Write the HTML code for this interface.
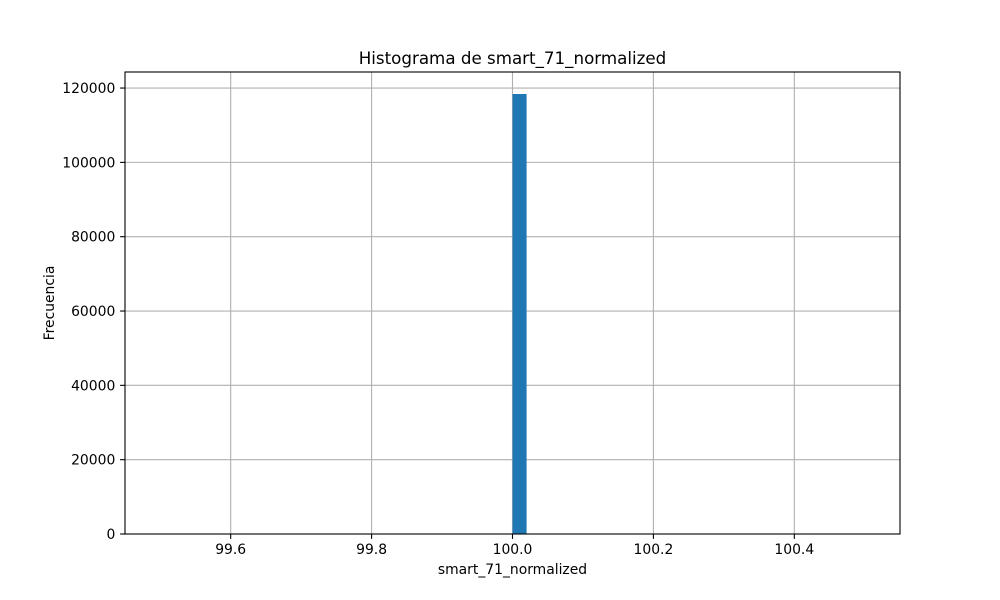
<!DOCTYPE html>
<html><head><meta charset="utf-8"><style>body{margin:0;background:#fff}svg{display:block;font-family:"DejaVu Sans","Liberation Sans",sans-serif}</style></head>
<body>
<svg id="chart" width="1000" height="600" viewBox="0 0 1000 600" xmlns="http://www.w3.org/2000/svg">
<rect width="1000" height="600" fill="#fff"/>
<text x="512.5" y="64" text-anchor="middle" font-size="16.7">Histograma de smart_71_normalized</text>
<text x="512.5" y="574" text-anchor="middle" font-size="13.9">smart_71_normalized</text>
<text transform="translate(54,303) rotate(-90)" text-anchor="middle" font-size="13.9">Frecuencia</text>
<g id="grid"></g><g id="bars"></g><g id="ticks"></g>
<rect x="125" y="72" width="775" height="462" fill="none" stroke="#000" stroke-width="1.1"/>
</svg>
<script>
const binEdgesStart = [100.0];
const binWidth = [0.02];
const counts = [118400];
const xTicks = [99.6, 99.8, 100.0, 100.2, 100.4];
const xTickLabels = ["99.6", "99.8", "100.0", "100.2", "100.4"];
const yTicks = [0, 20000, 40000, 60000, 80000, 100000, 120000];
const yTickLabels = ["0", "20000", "40000", "60000", "80000", "100000", "120000"];
const X0=125,X1=900,Y0=534,Y1=72;
const xMin=99.45,xMax=100.55,yMin=0,yMax=124320;
const sx=v=>X0+(v-xMin)/(xMax-xMin)*(X1-X0);
const sy=v=>Y0-(v-yMin)/(yMax-yMin)*(Y0-Y1);
const NS="http://www.w3.org/2000/svg";
function mk(t,a,p){const e=document.createElementNS(NS,t);for(const k in a)e.setAttribute(k,a[k]);p.appendChild(e);return e;}
const grid=document.getElementById('grid'),bars=document.getElementById('bars'),ticks=document.getElementById('ticks');
xTicks.forEach((v,i)=>{const x=sx(v);
 const g=mk('line',{x1:x,x2:x,y1:Y1,y2:Y0,stroke:'#b0b0b0','stroke-width':1.1},grid);
 
 
 const t=mk('line',{x1:x,x2:x,y1:Y0,y2:Y0+4.9,stroke:'#000','stroke-width':1.1},ticks);
 
 
 const l=mk('text',{x:x,y:Y0+20,'text-anchor':'middle','font-size':13.9},ticks);l.textContent=xTickLabels[i];
 
 
});
yTicks.forEach((v,i)=>{const y=sy(v);
 const g=mk('line',{x1:X0,x2:X1,y1:y,y2:y,stroke:'#b0b0b0','stroke-width':1.1},grid);
 
 
 const t=mk('line',{x1:X0-4.9,x2:X0,y1:y,y2:y,stroke:'#000','stroke-width':1.1},ticks);
 
 
 const l=mk('text',{x:X0-9.7,y:y+5,'text-anchor':'end','font-size':13.9},ticks);l.textContent=yTickLabels[i];
 
 
});
counts.forEach((c,i)=>{const xa=sx(binEdgesStart[i]),xb=sx(binEdgesStart[i]+binWidth[i]);
 const r=mk('rect',{x:xa,y:sy(c),width:xb-xa,height:Y0-sy(c),fill:'#1f77b4'},bars);
 
 
});
</script>
</body></html>
